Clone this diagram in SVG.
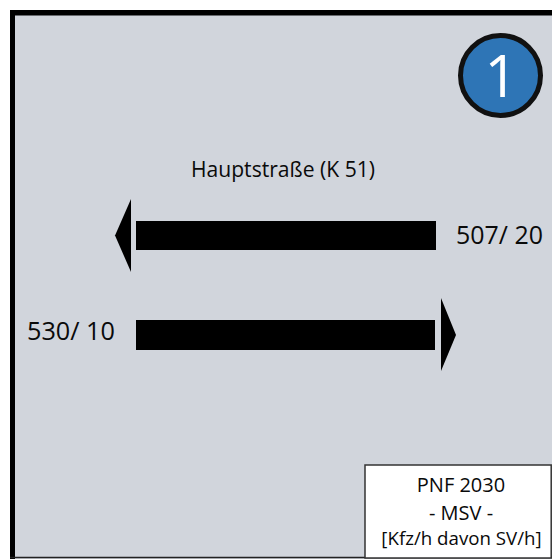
<svg xmlns="http://www.w3.org/2000/svg" width="552" height="559" viewBox="0 0 552 559">
  <style>
    .lbl { font-family: "Open Sans", "Liberation Sans", sans-serif; fill: #0a0a0a; }
    .arrow { fill: #000; }
  </style>
  <rect x="0" y="0" width="552" height="559" fill="#ffffff"/>
  <g id="frame">
    <rect x="10" y="10" width="542" height="549" fill="#d1d5dc"/>
    <line x1="12.5" y1="10" x2="12.5" y2="559" stroke="#000" stroke-width="5"/>
    <line x1="10" y1="12.8" x2="552" y2="12.8" stroke="#000" stroke-width="5.5"/>
    <line x1="10" y1="557.5" x2="552" y2="557.5" stroke="#222" stroke-width="1.5"/>
  </g>
  <g id="badge">
    <circle cx="500.5" cy="75.5" r="40" fill="#2e75b6" stroke="#111" stroke-width="5"/>
    <text x="501" y="97" text-anchor="middle" font-family="Open Sans, Liberation Sans, sans-serif" font-size="58" fill="#ffffff">1</text>
  </g>
  <g id="road-label">
    <text class="lbl" x="283" y="177" text-anchor="middle" font-size="21" textLength="184" lengthAdjust="spacingAndGlyphs">Hauptstraße (K 51)</text>
  </g>
  <g id="connectors">
    <g id="arrow-west">
      <rect class="arrow" x="136" y="221" width="300" height="29"/>
      <polygon class="arrow" points="115,235.5 131,199 131,272"/>
    </g>
    <g id="arrow-east">
      <rect class="arrow" x="136" y="320" width="299" height="30"/>
      <polygon class="arrow" points="456,335 441,298 441,371"/>
    </g>
  </g>
  <g id="value-west">
    <text class="lbl" x="456" y="244" font-size="25" textLength="87" lengthAdjust="spacingAndGlyphs">507/ 20</text>
  </g>
  <g id="value-east">
    <text class="lbl" x="27" y="340" font-size="25" textLength="88" lengthAdjust="spacingAndGlyphs">530/ 10</text>
  </g>
  <g id="legend">
    <rect x="365" y="465" width="186.2" height="93" fill="#ffffff" stroke="#333" stroke-width="1.5"/>
    <text class="lbl" x="461" y="492" text-anchor="middle" font-size="20">PNF 2030</text>
    <text class="lbl" x="461" y="520" text-anchor="middle" font-size="20">- MSV -</text>
    <text class="lbl" x="461.5" y="545" text-anchor="middle" font-size="18.7">[Kfz/h davon SV/h]</text>
  </g>
</svg>
